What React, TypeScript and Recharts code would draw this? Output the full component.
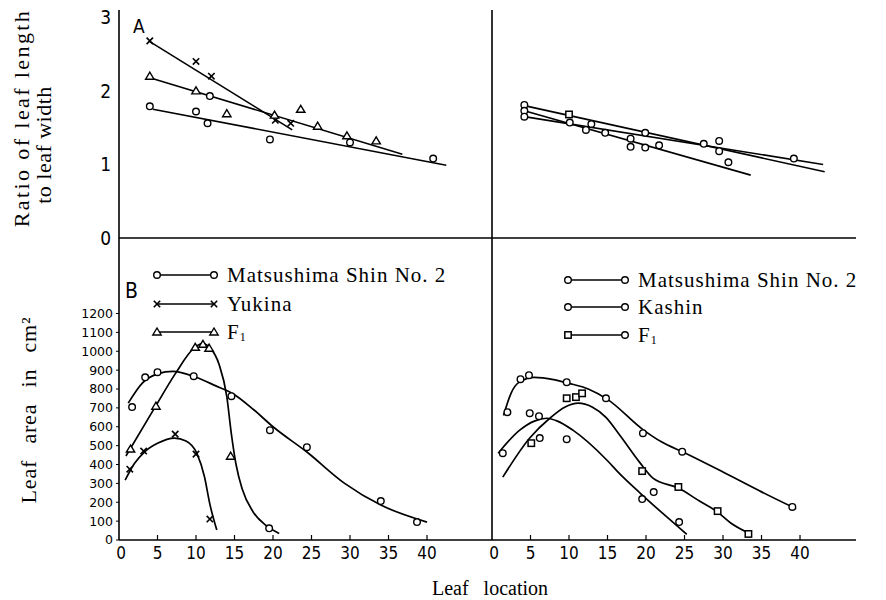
import React from 'react';
import { ComposedChart, Line, Scatter, XAxis, YAxis, ReferenceLine } from 'recharts';

type Pt = { x: number; y: number };

const SERIF = '"Liberation Serif", "DejaVu Serif", serif';
const SANS = '"DejaVu Sans Condensed", "Liberation Sans", sans-serif';

// ---- A: ratio of leaf length to leaf width ----
const aTicks = [0, 1, 2, 3];
const locationTicks = [0, 5, 10, 15, 20, 25, 30, 35, 40];

const aLeftMatsushimaPts: Pt[] = [
  { x: 4, y: 1.79 }, { x: 10, y: 1.72 }, { x: 11.5, y: 1.56 }, { x: 11.8, y: 1.93 },
  { x: 19.6, y: 1.34 }, { x: 30, y: 1.3 }, { x: 40.8, y: 1.08 },
];
const aLeftYukinaPts: Pt[] = [
  { x: 4, y: 2.68 }, { x: 10, y: 2.4 }, { x: 12, y: 2.2 }, { x: 20.3, y: 1.6 }, { x: 22.3, y: 1.56 },
];
const aLeftF1Pts: Pt[] = [
  { x: 4, y: 2.2 }, { x: 10, y: 2.0 }, { x: 14, y: 1.69 }, { x: 20.2, y: 1.67 },
  { x: 23.6, y: 1.75 }, { x: 25.8, y: 1.52 }, { x: 29.6, y: 1.39 }, { x: 33.4, y: 1.32 },
];
const aLeftMatsushimaFit: Pt[] = [{ x: 4.4, y: 1.75 }, { x: 42.5, y: 0.99 }];
const aLeftYukinaFit: Pt[] = [{ x: 4, y: 2.67 }, { x: 22.5, y: 1.47 }];
const aLeftF1Fit: Pt[] = [{ x: 4, y: 2.18 }, { x: 36.8, y: 1.14 }];

const aRightCirclePts: Pt[] = [
  { x: 4.2, y: 1.81 }, { x: 4.2, y: 1.73 }, { x: 4.2, y: 1.65 }, { x: 10.1, y: 1.57 },
  { x: 12.9, y: 1.55 }, { x: 12.2, y: 1.47 }, { x: 14.7, y: 1.43 }, { x: 19.9, y: 1.43 },
  { x: 18, y: 1.35 }, { x: 18, y: 1.24 }, { x: 19.9, y: 1.23 }, { x: 21.7, y: 1.26 },
  { x: 27.5, y: 1.28 }, { x: 29.5, y: 1.32 }, { x: 29.5, y: 1.18 }, { x: 30.7, y: 1.03 },
  { x: 39.2, y: 1.08 },
];
const aRightSquarePts: Pt[] = [{ x: 10, y: 1.68 }];
const aRightFitA: Pt[] = [{ x: 4.2, y: 1.8 }, { x: 43.2, y: 0.9 }];
const aRightFitB: Pt[] = [{ x: 4.2, y: 1.73 }, { x: 33.6, y: 0.855 }];
const aRightFitC: Pt[] = [{ x: 4.2, y: 1.65 }, { x: 43, y: 1.0 }];

// ---- B: leaf area in cm2 ----
const bTicks = [0, 100, 200, 300, 400, 500, 600, 700, 800, 900, 1000, 1100, 1200];

const bLeftMatsushimaPts: Pt[] = [
  { x: 1.7, y: 704 }, { x: 3.4, y: 862 }, { x: 5, y: 889 }, { x: 9.7, y: 868 },
  { x: 14.6, y: 762 }, { x: 19.6, y: 582 }, { x: 24.4, y: 492 }, { x: 34, y: 206 }, { x: 38.7, y: 95 },
];
const bLeftMatsushimaCurve: Pt[] = [
  { x: 1.2, y: 725 }, { x: 3, y: 830 }, { x: 5, y: 880 }, { x: 7, y: 893 }, { x: 10, y: 862 },
  { x: 12.5, y: 818 }, { x: 15, y: 770 }, { x: 17.5, y: 690 }, { x: 20, y: 600 },
  { x: 24.4, y: 466 }, { x: 29.3, y: 300 }, { x: 34, y: 185 }, { x: 40, y: 95 },
];
const bLeftYukinaPts: Pt[] = [
  { x: 1.4, y: 375 }, { x: 3.2, y: 471 }, { x: 7.3, y: 561 }, { x: 10, y: 455 }, { x: 11.8, y: 111 },
];
const bLeftYukinaCurve: Pt[] = [
  { x: 0.8, y: 317 }, { x: 2, y: 405 }, { x: 3.3, y: 466 }, { x: 5, y: 512 }, { x: 7.2, y: 540 },
  { x: 8.7, y: 525 }, { x: 10.1, y: 460 }, { x: 11.1, y: 335 }, { x: 11.8, y: 190 }, { x: 12.7, y: 53 },
];
const bLeftF1Pts: Pt[] = [
  { x: 1.5, y: 482 }, { x: 4.8, y: 709 }, { x: 9.9, y: 1021 }, { x: 10.9, y: 1037 },
  { x: 11.7, y: 1016 }, { x: 14.5, y: 444 },
];
const bLeftOtherPts: Pt[] = [{ x: 19.5, y: 62 }];
const bLeftF1Curve: Pt[] = [
  { x: 0.9, y: 445 }, { x: 4.7, y: 705 }, { x: 7.3, y: 880 }, { x: 9.7, y: 1015 }, { x: 10.8, y: 1040 },
  { x: 12, y: 1010 }, { x: 13, y: 930 }, { x: 14, y: 760 }, { x: 14.6, y: 560 }, { x: 15.2, y: 400 },
  { x: 16, y: 270 }, { x: 17.4, y: 150 }, { x: 19, y: 80 }, { x: 20.8, y: 35 },
];

const bRightMatsushimaPts: Pt[] = [
  { x: 2, y: 677 }, { x: 3.7, y: 852 }, { x: 4.8, y: 873 }, { x: 9.7, y: 836 }, { x: 14.8, y: 751 },
  { x: 19.6, y: 566 }, { x: 24.7, y: 468 }, { x: 39, y: 175 },
];
const bRightMatsushimaCurve: Pt[] = [
  { x: 1.5, y: 660 }, { x: 2.5, y: 780 }, { x: 3.5, y: 835 }, { x: 5.5, y: 862 }, { x: 8, y: 850 },
  { x: 10, y: 830 }, { x: 12.5, y: 800 }, { x: 15, y: 745 }, { x: 19.6, y: 585 }, { x: 22, y: 520 },
  { x: 25, y: 462 }, { x: 30, y: 360 }, { x: 35, y: 255 }, { x: 39.5, y: 165 },
];
const bRightKashinPts: Pt[] = [
  { x: 1.4, y: 460 }, { x: 4.9, y: 672 }, { x: 6.1, y: 656 }, { x: 9.7, y: 534 }, { x: 6.2, y: 540 },
  { x: 19.5, y: 217 }, { x: 21, y: 254 }, { x: 24.3, y: 95 },
];
const bRightKashinCurve: Pt[] = [
  { x: 0.8, y: 460 }, { x: 3.6, y: 582 }, { x: 5.5, y: 630 }, { x: 7.1, y: 645 }, { x: 8.5, y: 630 },
  { x: 10.5, y: 582 }, { x: 15, y: 420 }, { x: 16.6, y: 350 }, { x: 19.2, y: 250 }, { x: 22.7, y: 122 },
  { x: 25.3, y: 30 },
];
const bRightF1Pts: Pt[] = [
  { x: 5.1, y: 513 }, { x: 9.7, y: 751 }, { x: 10.9, y: 757 }, { x: 11.7, y: 777 },
  { x: 19.5, y: 365 }, { x: 24.2, y: 281 }, { x: 29.3, y: 153 }, { x: 33.3, y: 32 },
];
const bRightF1Curve: Pt[] = [
  { x: 1.4, y: 333 }, { x: 4.9, y: 540 }, { x: 7.5, y: 645 }, { x: 9.5, y: 705 }, { x: 11.2, y: 725 },
  { x: 13, y: 705 }, { x: 14.8, y: 650 }, { x: 16.6, y: 555 }, { x: 19.2, y: 410 }, { x: 20.9, y: 328 },
  { x: 24.2, y: 275 }, { x: 27, y: 205 }, { x: 29.3, y: 148 }, { x: 31, y: 90 }, { x: 33.3, y: 37 },
];

const LEFT_X_MAX = 48.44;
const RIGHT_X_MAX = 47.27;

const circleShape = (p: any) => (
  <circle cx={p.cx} cy={p.cy} r={3.3} fill="#fff" stroke="#000" strokeWidth={1.4} />
);
const squareShape = (p: any) => (
  <rect x={p.cx - 3.2} y={p.cy - 3.2} width={6.4} height={6.4} fill="#fff" stroke="#000" strokeWidth={1.5} />
);
const triangleShape = (p: any) => (
  <polygon
    points={`${p.cx},${p.cy - 4} ${p.cx - 4.2},${p.cy + 3} ${p.cx + 4.2},${p.cy + 3}`}
    fill="#fff"
    stroke="#000"
    strokeWidth={1.4}
  />
);
const crossShape = (p: any) => (
  <g stroke="#000" strokeWidth={1.6}>
    <line x1={p.cx - 3.2} y1={p.cy - 3.2} x2={p.cx + 3.2} y2={p.cy + 3.2} />
    <line x1={p.cx - 3.2} y1={p.cy + 3.2} x2={p.cx + 3.2} y2={p.cy - 3.2} />
  </g>
);

const XTick = ({ x, y, payload }: any) => (
  <g>
    {payload.value !== 0 && <line x1={x} x2={x} y1={y} y2={y - 5} stroke="#000" strokeWidth={1.2} />}
    <text x={x + (payload.value === 0 ? 2 : 0)} y={y + 19} textAnchor="middle" fontFamily={SANS} fontSize={17} fill="#000">
      {payload.value}
    </text>
  </g>
);

const fit = (data: Pt[], key: string) => (
  <Line key={key} data={data} dataKey="y" type="linear" stroke="#000" strokeWidth={1.6} dot={false} isAnimationActive={false} />
);
const curve = (data: Pt[], key: string) => (
  <Line key={key} data={data} dataKey="y" type="monotone" stroke="#000" strokeWidth={1.7} dot={false} isAnimationActive={false} />
);
const points = (data: Pt[], shape: any, key: string) => (
  <Scatter key={key} data={data} shape={shape} isAnimationActive={false} />
);

function Panel(props: {
  left: number; top: number; width: number; height: number;
  margin: { top: number; right: number; bottom: number; left: number };
  xMax: number; yMax: number; yTicks: number[] | null; isTop: boolean; children: any;
}) {
  const { left, top, width, height, margin, xMax, yMax, yTicks, isTop, children } = props;
  return (
    <div style={{ position: 'absolute', left, top }}>
      <ComposedChart width={width} height={height} margin={margin}>
        <XAxis
          dataKey="x"
          type="number"
          domain={[0, xMax]}
          allowDataOverflow
          hide={isTop}
          ticks={locationTicks}
          interval={0}
          height={30}
          axisLine={{ stroke: '#000', strokeWidth: 1.6 }}
          tickLine={false}
          tickSize={0}
          tickMargin={0}
          tick={<XTick />}
        />
        <YAxis
          dataKey="y"
          type="number"
          domain={[0, yMax]}
          allowDataOverflow
          width={40}
          ticks={yTicks ?? []}
          interval={0}
          tick={
            yTicks
              ? { fill: '#000', fontFamily: isTop ? SANS : '"DejaVu Sans", sans-serif', fontSize: isTop ? 19 : 12.5 }
              : false
          }
          tickLine={!isTop && yTicks ? { stroke: '#000' } : false}
          tickSize={3}
          tickMargin={isTop ? 5 : 3}
          axisLine={{ stroke: '#000', strokeWidth: 1.6 }}
        />
        {isTop && <ReferenceLine y={0} stroke="#000" strokeWidth={1.6} />}
        {children}
      </ComposedChart>
    </div>
  );
}

const LegendRow = ({ x, y, left, right, label }: { x: number; y: number; left: any; right: any; label: any }) => (
  <g>
    <line x1={x} x2={x + 57} y1={y} y2={y} stroke="#000" strokeWidth={1.4} />
    {left({ cx: x, cy: y })}
    {right({ cx: x + 57, cy: y })}
    <text x={x + 70} y={y + 7} fontFamily={SERIF} fontSize={21} letterSpacing={1} fill="#000">
      {label}
    </text>
  </g>
);

const F1 = (
  <>
    F<tspan fontSize={12} dy={2}>1</tspan>
  </>
);

export default function App() {
  const topMargin = { top: 10, right: 8, bottom: 12, left: 79 };
  const topMarginR = { top: 10, right: 16, bottom: 12, left: 0 };
  const botMargin = { top: 8, right: 8, bottom: 30, left: 79 };
  const botMarginR = { top: 8, right: 16, bottom: 30, left: 0 };
  return (
    <div style={{ position: 'absolute', left: 0, top: 0, width: 886, height: 600, background: '#fff' }}>
      <Panel left={0} top={0} width={500} height={250} margin={topMargin} xMax={LEFT_X_MAX} yMax={3.1} yTicks={aTicks} isTop>
        {[
          fit(aLeftMatsushimaFit, 'f1'),
          fit(aLeftYukinaFit, 'f2'),
          fit(aLeftF1Fit, 'f3'),
          points(aLeftMatsushimaPts, circleShape, 'p1'),
          points(aLeftYukinaPts, crossShape, 'p2'),
          points(aLeftF1Pts, triangleShape, 'p3'),
        ]}
      </Panel>
      <Panel left={452} top={0} width={420} height={250} margin={topMarginR} xMax={RIGHT_X_MAX} yMax={3.1} yTicks={null} isTop>
        {[
          fit(aRightFitA, 'f1'),
          fit(aRightFitB, 'f2'),
          fit(aRightFitC, 'f3'),
          points(aRightCirclePts, circleShape, 'p1'),
          points(aRightSquarePts, squareShape, 'p2'),
        ]}
      </Panel>
      <Panel left={0} top={230} width={500} height={370} margin={botMargin} xMax={LEFT_X_MAX} yMax={1600} yTicks={bTicks} isTop={false}>
        {[
          curve(bLeftMatsushimaCurve, 'c1'),
          curve(bLeftYukinaCurve, 'c2'),
          curve(bLeftF1Curve, 'c3'),
          points(bLeftMatsushimaPts, circleShape, 'p1'),
          points(bLeftYukinaPts, crossShape, 'p2'),
          points(bLeftF1Pts, triangleShape, 'p3'),
          points(bLeftOtherPts, circleShape, 'p4'),
        ]}
      </Panel>
      <Panel left={452} top={230} width={420} height={370} margin={botMarginR} xMax={RIGHT_X_MAX} yMax={1600} yTicks={null} isTop={false}>
        {[
          curve(bRightMatsushimaCurve, 'c1'),
          curve(bRightKashinCurve, 'c2'),
          curve(bRightF1Curve, 'c3'),
          points(bRightMatsushimaPts, circleShape, 'p1'),
          points(bRightKashinPts, circleShape, 'p2'),
          points(bRightF1Pts, squareShape, 'p3'),
        ]}
      </Panel>
      <svg width={886} height={600} style={{ position: 'absolute', left: 0, top: 0, pointerEvents: 'none' }}>
        <text x={133} y={33} fontFamily={SANS} fontSize={19} fill="#000">A</text>
        <text x={125} y={298} fontFamily={SANS} fontSize={21} fill="#000">B</text>
        <text transform="translate(29,118) rotate(-90)" textAnchor="middle" fontFamily={SERIF} fontSize={22} letterSpacing={2.4} fill="#000">
          Ratio of leaf length
        </text>
        <text transform="translate(51,145) rotate(-90)" textAnchor="middle" fontFamily={SERIF} fontSize={22} letterSpacing={0.5} fill="#000">
          to leaf width
        </text>
        <text transform="translate(36,410) rotate(-90)" textAnchor="middle" fontFamily={SERIF} fontSize={22} wordSpacing={10} letterSpacing={0.8} fill="#000">
          Leaf area in cm²
        </text>
        <text x={490} y={595} textAnchor="middle" fontFamily={SERIF} fontSize={20} wordSpacing={10} fill="#000">
          Leaf location
        </text>
        <LegendRow x={157} y={275} left={circleShape} right={circleShape} label="Matsushima Shin No. 2" />
        <LegendRow x={157} y={304} left={crossShape} right={crossShape} label="Yukina" />
        <LegendRow x={157} y={332} left={triangleShape} right={triangleShape} label={F1} />
        <LegendRow x={568} y={280} left={circleShape} right={circleShape} label="Matsushima Shin No. 2" />
        <LegendRow x={568} y={307} left={circleShape} right={circleShape} label="Kashin" />
        <LegendRow x={568} y={335} left={squareShape} right={circleShape} label={F1} />
      </svg>
    </div>
  );
}
